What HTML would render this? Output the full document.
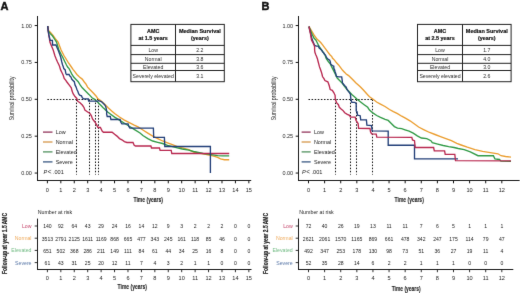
<!DOCTYPE html><html><head><meta charset="utf-8"><style>html,body{margin:0;padding:0;background:#fff;}svg{display:block;font-family:"Liberation Sans", sans-serif;}</style></head><body>
<svg width="520" height="293" viewBox="0 0 520 293">
<defs><filter id="bl" x="0" y="0" width="520" height="293" filterUnits="userSpaceOnUse" color-interpolation-filters="sRGB"><feConvolveMatrix order="3" kernelMatrix="0.00717 0.08466 0.00717 0.08466 1.00000 0.08466 0.00717 0.08466 0.00717" edgeMode="duplicate" preserveAlpha="false"/></filter></defs>
<rect width="520" height="293" fill="#fff"/>
<g filter="url(#bl)">
<text x="0.5" y="10" font-size="11" text-anchor="start" fill="#111" font-weight="bold" stroke="#111" stroke-width="0.45">A</text>
<line x1="37.5" y1="16" x2="37.5" y2="181" stroke="#1a1a1a" stroke-width="1.05" />
<line x1="34.7" y1="173.05" x2="37.5" y2="173.05" stroke="#111" stroke-width="1.0" />
<text x="31.9" y="175.05" font-size="5.5" text-anchor="end" fill="#1e1e1e" font-weight="normal" >0.00</text>
<line x1="34.7" y1="136.18" x2="37.5" y2="136.18" stroke="#111" stroke-width="1.0" />
<text x="31.9" y="138.18" font-size="5.5" text-anchor="end" fill="#1e1e1e" font-weight="normal" >0.25</text>
<line x1="34.7" y1="99.3" x2="37.5" y2="99.3" stroke="#111" stroke-width="1.0" />
<text x="31.9" y="101.3" font-size="5.5" text-anchor="end" fill="#1e1e1e" font-weight="normal" >0.50</text>
<line x1="34.7" y1="62.43" x2="37.5" y2="62.43" stroke="#111" stroke-width="1.0" />
<text x="31.9" y="64.43" font-size="5.5" text-anchor="end" fill="#1e1e1e" font-weight="normal" >0.75</text>
<line x1="34.7" y1="25.55" x2="37.5" y2="25.55" stroke="#111" stroke-width="1.0" />
<text x="31.9" y="27.55" font-size="5.5" text-anchor="end" fill="#1e1e1e" font-weight="normal" >1.00</text>
<text transform="translate(14.3,98.3) rotate(-90)" font-size="6.4" text-anchor="middle" fill="#1e1e1e" textLength="44" lengthAdjust="spacingAndGlyphs">Survival probability</text>
<line x1="37" y1="180.5" x2="251.2" y2="180.5" stroke="#1a1a1a" stroke-width="1.05" />
<line x1="47.4" y1="180.5" x2="47.4" y2="183.3" stroke="#111" stroke-width="1.0" />
<text x="47.4" y="191.5" font-size="5.6" text-anchor="middle" fill="#222" font-weight="normal" >0</text>
<line x1="60.83" y1="180.5" x2="60.83" y2="183.3" stroke="#111" stroke-width="1.0" />
<text x="60.83" y="191.5" font-size="5.6" text-anchor="middle" fill="#222" font-weight="normal" >1</text>
<line x1="74.26" y1="180.5" x2="74.26" y2="183.3" stroke="#111" stroke-width="1.0" />
<text x="74.26" y="191.5" font-size="5.6" text-anchor="middle" fill="#222" font-weight="normal" >2</text>
<line x1="87.69" y1="180.5" x2="87.69" y2="183.3" stroke="#111" stroke-width="1.0" />
<text x="87.69" y="191.5" font-size="5.6" text-anchor="middle" fill="#222" font-weight="normal" >3</text>
<line x1="101.12" y1="180.5" x2="101.12" y2="183.3" stroke="#111" stroke-width="1.0" />
<text x="101.12" y="191.5" font-size="5.6" text-anchor="middle" fill="#222" font-weight="normal" >4</text>
<line x1="114.55" y1="180.5" x2="114.55" y2="183.3" stroke="#111" stroke-width="1.0" />
<text x="114.55" y="191.5" font-size="5.6" text-anchor="middle" fill="#222" font-weight="normal" >5</text>
<line x1="127.98" y1="180.5" x2="127.98" y2="183.3" stroke="#111" stroke-width="1.0" />
<text x="127.98" y="191.5" font-size="5.6" text-anchor="middle" fill="#222" font-weight="normal" >6</text>
<line x1="141.41" y1="180.5" x2="141.41" y2="183.3" stroke="#111" stroke-width="1.0" />
<text x="141.41" y="191.5" font-size="5.6" text-anchor="middle" fill="#222" font-weight="normal" >7</text>
<line x1="154.84" y1="180.5" x2="154.84" y2="183.3" stroke="#111" stroke-width="1.0" />
<text x="154.84" y="191.5" font-size="5.6" text-anchor="middle" fill="#222" font-weight="normal" >8</text>
<line x1="168.27" y1="180.5" x2="168.27" y2="183.3" stroke="#111" stroke-width="1.0" />
<text x="168.27" y="191.5" font-size="5.6" text-anchor="middle" fill="#222" font-weight="normal" >9</text>
<line x1="181.7" y1="180.5" x2="181.7" y2="183.3" stroke="#111" stroke-width="1.0" />
<text x="181.7" y="191.5" font-size="5.6" text-anchor="middle" fill="#222" font-weight="normal" >10</text>
<line x1="195.13" y1="180.5" x2="195.13" y2="183.3" stroke="#111" stroke-width="1.0" />
<text x="195.13" y="191.5" font-size="5.6" text-anchor="middle" fill="#222" font-weight="normal" >11</text>
<line x1="208.56" y1="180.5" x2="208.56" y2="183.3" stroke="#111" stroke-width="1.0" />
<text x="208.56" y="191.5" font-size="5.6" text-anchor="middle" fill="#222" font-weight="normal" >12</text>
<line x1="221.99" y1="180.5" x2="221.99" y2="183.3" stroke="#111" stroke-width="1.0" />
<text x="221.99" y="191.5" font-size="5.6" text-anchor="middle" fill="#222" font-weight="normal" >13</text>
<line x1="235.42" y1="180.5" x2="235.42" y2="183.3" stroke="#111" stroke-width="1.0" />
<text x="235.42" y="191.5" font-size="5.6" text-anchor="middle" fill="#222" font-weight="normal" >14</text>
<line x1="248.85" y1="180.5" x2="248.85" y2="183.3" stroke="#111" stroke-width="1.0" />
<text x="248.85" y="191.5" font-size="5.6" text-anchor="middle" fill="#222" font-weight="normal" >15</text>
<text x="133.5" y="201.8" font-size="8.0" font-weight="bold" fill="#222" stroke="#222" stroke-width="0.12" textLength="29.5" lengthAdjust="spacingAndGlyphs">Time (years)</text>
<rect x="130.9" y="24.4" width="93.4" height="57.3" fill="#fff" stroke="#222" stroke-width="1.0"/>
<line x1="130.9" y1="45.4" x2="224.3" y2="45.4" stroke="#222" stroke-width="1.0" />
<line x1="130.9" y1="54.6" x2="224.3" y2="54.6" stroke="#222" stroke-width="1.0" />
<line x1="130.9" y1="63.3" x2="224.3" y2="63.3" stroke="#222" stroke-width="1.0" />
<line x1="130.9" y1="70.5" x2="224.3" y2="70.5" stroke="#222" stroke-width="1.0" />
<line x1="175.5" y1="24.4" x2="175.5" y2="81.7" stroke="#222" stroke-width="1.0" />
<text x="153.2" y="33.1" font-size="5.4" text-anchor="middle" fill="#111" font-weight="bold" stroke="#111" stroke-width="0.18">AMC</text>
<text x="153.2" y="39.9" font-size="5.4" text-anchor="middle" fill="#111" font-weight="bold" stroke="#111" stroke-width="0.18">at 1.5 years</text>
<text x="199.9" y="33.1" font-size="5.5" text-anchor="middle" fill="#111" font-weight="bold" stroke="#111" stroke-width="0.18">Median Survival</text>
<text x="199.9" y="39.9" font-size="5.4" text-anchor="middle" fill="#111" font-weight="bold" stroke="#111" stroke-width="0.18">(years)</text>
<text x="153.2" y="51.8" font-size="5.2" text-anchor="middle" fill="#2a2a2a" font-weight="normal" >Low</text>
<text x="199.9" y="51.8" font-size="5.2" text-anchor="middle" fill="#2a2a2a" font-weight="normal" >2.2</text>
<text x="153.2" y="60.75" font-size="5.2" text-anchor="middle" fill="#2a2a2a" font-weight="normal" >Normal</text>
<text x="199.9" y="60.75" font-size="5.2" text-anchor="middle" fill="#2a2a2a" font-weight="normal" >3.8</text>
<text x="153.2" y="68.7" font-size="5.2" text-anchor="middle" fill="#2a2a2a" font-weight="normal" >Elevated</text>
<text x="199.9" y="68.7" font-size="5.2" text-anchor="middle" fill="#2a2a2a" font-weight="normal" >3.6</text>
<text x="153.2" y="77.9" font-size="5.2" text-anchor="middle" fill="#2a2a2a" font-weight="normal" >Severely elevated</text>
<text x="199.9" y="77.9" font-size="5.2" text-anchor="middle" fill="#2a2a2a" font-weight="normal" >3.1</text>
<line x1="43" y1="132.1" x2="52.5" y2="132.1" stroke="#8e2d55" stroke-width="1.25" />
<text x="55.7" y="133.9" font-size="5.4" text-anchor="start" fill="#222" font-weight="normal" >Low</text>
<line x1="43" y1="142" x2="52.5" y2="142" stroke="#d39342" stroke-width="1.25" />
<text x="55.7" y="143.8" font-size="5.4" text-anchor="start" fill="#222" font-weight="normal" >Normal</text>
<line x1="43" y1="151.9" x2="52.5" y2="151.9" stroke="#4a8c58" stroke-width="1.25" />
<text x="55.7" y="153.7" font-size="5.4" text-anchor="start" fill="#222" font-weight="normal" >Elevated</text>
<line x1="43" y1="161.9" x2="52.5" y2="161.9" stroke="#31527d" stroke-width="1.25" />
<text x="55.7" y="163.7" font-size="5.4" text-anchor="start" fill="#222" font-weight="normal" >Severe</text>
<text x="43.4" y="173.6" font-size="5.6" fill="#222"><tspan font-style="italic">P</tspan><tspan dx="0.6" font-size="6.4">&lt;</tspan><tspan dx="1.4">.001</tspan></text>
<line x1="47.4" y1="99.5" x2="98.5" y2="99.5" stroke="#111" stroke-width="1.0" stroke-dasharray="1.5,1.6"/>
<line x1="76.5" y1="99.5" x2="76.5" y2="174.6" stroke="#111" stroke-width="1.0" stroke-dasharray="1.5,1.6"/>
<line x1="89.5" y1="99.5" x2="89.5" y2="174.6" stroke="#111" stroke-width="1.0" stroke-dasharray="1.5,1.6"/>
<line x1="95.5" y1="99.5" x2="95.5" y2="174.6" stroke="#111" stroke-width="1.0" stroke-dasharray="1.5,1.6"/>
<line x1="98.5" y1="99.5" x2="98.5" y2="174.6" stroke="#111" stroke-width="1.0" stroke-dasharray="1.5,1.6"/>
<text x="37.7" y="213.8" font-size="5.3" fill="#1e1e1e">Number at risk</text>
<line x1="37.5" y1="218.6" x2="37.5" y2="270" stroke="#1a1a1a" stroke-width="1.05" />
<line x1="37" y1="269.5" x2="251.5" y2="269.5" stroke="#1a1a1a" stroke-width="1.05" />
<line x1="34.7" y1="226" x2="37.5" y2="226" stroke="#1a1a1a" stroke-width="0.9" />
<text x="31.5" y="228" font-size="5.2" text-anchor="end" fill="#c4456b" font-weight="normal" >Low</text>
<text x="47.4" y="228.4" font-size="5.1" text-anchor="middle" fill="#1a1a1a" font-weight="normal" >140</text>
<text x="60.83" y="228.4" font-size="5.1" text-anchor="middle" fill="#1a1a1a" font-weight="normal" >92</text>
<text x="74.26" y="228.4" font-size="5.1" text-anchor="middle" fill="#1a1a1a" font-weight="normal" >64</text>
<text x="87.69" y="228.4" font-size="5.1" text-anchor="middle" fill="#1a1a1a" font-weight="normal" >43</text>
<text x="101.12" y="228.4" font-size="5.1" text-anchor="middle" fill="#1a1a1a" font-weight="normal" >29</text>
<text x="114.55" y="228.4" font-size="5.1" text-anchor="middle" fill="#1a1a1a" font-weight="normal" >24</text>
<text x="127.98" y="228.4" font-size="5.1" text-anchor="middle" fill="#1a1a1a" font-weight="normal" >16</text>
<text x="141.41" y="228.4" font-size="5.1" text-anchor="middle" fill="#1a1a1a" font-weight="normal" >14</text>
<text x="154.84" y="228.4" font-size="5.1" text-anchor="middle" fill="#1a1a1a" font-weight="normal" >12</text>
<text x="168.27" y="228.4" font-size="5.1" text-anchor="middle" fill="#1a1a1a" font-weight="normal" >9</text>
<text x="181.7" y="228.4" font-size="5.1" text-anchor="middle" fill="#1a1a1a" font-weight="normal" >3</text>
<text x="195.13" y="228.4" font-size="5.1" text-anchor="middle" fill="#1a1a1a" font-weight="normal" >2</text>
<text x="208.56" y="228.4" font-size="5.1" text-anchor="middle" fill="#1a1a1a" font-weight="normal" >2</text>
<text x="221.99" y="228.4" font-size="5.1" text-anchor="middle" fill="#1a1a1a" font-weight="normal" >2</text>
<text x="235.42" y="228.4" font-size="5.1" text-anchor="middle" fill="#1a1a1a" font-weight="normal" >0</text>
<text x="248.85" y="228.4" font-size="5.1" text-anchor="middle" fill="#1a1a1a" font-weight="normal" >0</text>
<line x1="34.7" y1="238.2" x2="37.5" y2="238.2" stroke="#1a1a1a" stroke-width="0.9" />
<text x="31.5" y="240.2" font-size="5.2" text-anchor="end" fill="#eeaa5c" font-weight="normal" >Normal</text>
<text x="47.4" y="240.6" font-size="5.1" text-anchor="middle" fill="#1a1a1a" font-weight="normal" >3513</text>
<text x="60.83" y="240.6" font-size="5.1" text-anchor="middle" fill="#1a1a1a" font-weight="normal" >2791</text>
<text x="74.26" y="240.6" font-size="5.1" text-anchor="middle" fill="#1a1a1a" font-weight="normal" >2125</text>
<text x="87.69" y="240.6" font-size="5.1" text-anchor="middle" fill="#1a1a1a" font-weight="normal" >1611</text>
<text x="101.12" y="240.6" font-size="5.1" text-anchor="middle" fill="#1a1a1a" font-weight="normal" >1169</text>
<text x="114.55" y="240.6" font-size="5.1" text-anchor="middle" fill="#1a1a1a" font-weight="normal" >868</text>
<text x="127.98" y="240.6" font-size="5.1" text-anchor="middle" fill="#1a1a1a" font-weight="normal" >665</text>
<text x="141.41" y="240.6" font-size="5.1" text-anchor="middle" fill="#1a1a1a" font-weight="normal" >477</text>
<text x="154.84" y="240.6" font-size="5.1" text-anchor="middle" fill="#1a1a1a" font-weight="normal" >343</text>
<text x="168.27" y="240.6" font-size="5.1" text-anchor="middle" fill="#1a1a1a" font-weight="normal" >245</text>
<text x="181.7" y="240.6" font-size="5.1" text-anchor="middle" fill="#1a1a1a" font-weight="normal" >161</text>
<text x="195.13" y="240.6" font-size="5.1" text-anchor="middle" fill="#1a1a1a" font-weight="normal" >118</text>
<text x="208.56" y="240.6" font-size="5.1" text-anchor="middle" fill="#1a1a1a" font-weight="normal" >85</text>
<text x="221.99" y="240.6" font-size="5.1" text-anchor="middle" fill="#1a1a1a" font-weight="normal" >46</text>
<text x="235.42" y="240.6" font-size="5.1" text-anchor="middle" fill="#1a1a1a" font-weight="normal" >0</text>
<text x="248.85" y="240.6" font-size="5.1" text-anchor="middle" fill="#1a1a1a" font-weight="normal" >0</text>
<line x1="34.7" y1="250.4" x2="37.5" y2="250.4" stroke="#1a1a1a" stroke-width="0.9" />
<text x="31.5" y="252.4" font-size="5.2" text-anchor="end" fill="#72bb84" font-weight="normal" >Elevated</text>
<text x="47.4" y="252.8" font-size="5.1" text-anchor="middle" fill="#1a1a1a" font-weight="normal" >651</text>
<text x="60.83" y="252.8" font-size="5.1" text-anchor="middle" fill="#1a1a1a" font-weight="normal" >502</text>
<text x="74.26" y="252.8" font-size="5.1" text-anchor="middle" fill="#1a1a1a" font-weight="normal" >368</text>
<text x="87.69" y="252.8" font-size="5.1" text-anchor="middle" fill="#1a1a1a" font-weight="normal" >286</text>
<text x="101.12" y="252.8" font-size="5.1" text-anchor="middle" fill="#1a1a1a" font-weight="normal" >211</text>
<text x="114.55" y="252.8" font-size="5.1" text-anchor="middle" fill="#1a1a1a" font-weight="normal" >149</text>
<text x="127.98" y="252.8" font-size="5.1" text-anchor="middle" fill="#1a1a1a" font-weight="normal" >111</text>
<text x="141.41" y="252.8" font-size="5.1" text-anchor="middle" fill="#1a1a1a" font-weight="normal" >84</text>
<text x="154.84" y="252.8" font-size="5.1" text-anchor="middle" fill="#1a1a1a" font-weight="normal" >61</text>
<text x="168.27" y="252.8" font-size="5.1" text-anchor="middle" fill="#1a1a1a" font-weight="normal" >44</text>
<text x="181.7" y="252.8" font-size="5.1" text-anchor="middle" fill="#1a1a1a" font-weight="normal" >34</text>
<text x="195.13" y="252.8" font-size="5.1" text-anchor="middle" fill="#1a1a1a" font-weight="normal" >25</text>
<text x="208.56" y="252.8" font-size="5.1" text-anchor="middle" fill="#1a1a1a" font-weight="normal" >16</text>
<text x="221.99" y="252.8" font-size="5.1" text-anchor="middle" fill="#1a1a1a" font-weight="normal" >8</text>
<text x="235.42" y="252.8" font-size="5.1" text-anchor="middle" fill="#1a1a1a" font-weight="normal" >0</text>
<text x="248.85" y="252.8" font-size="5.1" text-anchor="middle" fill="#1a1a1a" font-weight="normal" >0</text>
<line x1="34.7" y1="262.6" x2="37.5" y2="262.6" stroke="#1a1a1a" stroke-width="0.9" />
<text x="31.5" y="264.6" font-size="5.2" text-anchor="end" fill="#5a78a8" font-weight="normal" >Severe</text>
<text x="47.4" y="265" font-size="5.1" text-anchor="middle" fill="#1a1a1a" font-weight="normal" >61</text>
<text x="60.83" y="265" font-size="5.1" text-anchor="middle" fill="#1a1a1a" font-weight="normal" >43</text>
<text x="74.26" y="265" font-size="5.1" text-anchor="middle" fill="#1a1a1a" font-weight="normal" >31</text>
<text x="87.69" y="265" font-size="5.1" text-anchor="middle" fill="#1a1a1a" font-weight="normal" >25</text>
<text x="101.12" y="265" font-size="5.1" text-anchor="middle" fill="#1a1a1a" font-weight="normal" >20</text>
<text x="114.55" y="265" font-size="5.1" text-anchor="middle" fill="#1a1a1a" font-weight="normal" >12</text>
<text x="127.98" y="265" font-size="5.1" text-anchor="middle" fill="#1a1a1a" font-weight="normal" >11</text>
<text x="141.41" y="265" font-size="5.1" text-anchor="middle" fill="#1a1a1a" font-weight="normal" >7</text>
<text x="154.84" y="265" font-size="5.1" text-anchor="middle" fill="#1a1a1a" font-weight="normal" >4</text>
<text x="168.27" y="265" font-size="5.1" text-anchor="middle" fill="#1a1a1a" font-weight="normal" >3</text>
<text x="181.7" y="265" font-size="5.1" text-anchor="middle" fill="#1a1a1a" font-weight="normal" >2</text>
<text x="195.13" y="265" font-size="5.1" text-anchor="middle" fill="#1a1a1a" font-weight="normal" >1</text>
<text x="208.56" y="265" font-size="5.1" text-anchor="middle" fill="#1a1a1a" font-weight="normal" >1</text>
<text x="221.99" y="265" font-size="5.1" text-anchor="middle" fill="#1a1a1a" font-weight="normal" >0</text>
<text x="235.42" y="265" font-size="5.1" text-anchor="middle" fill="#1a1a1a" font-weight="normal" >0</text>
<text x="248.85" y="265" font-size="5.1" text-anchor="middle" fill="#1a1a1a" font-weight="normal" >0</text>
<line x1="47.4" y1="269.5" x2="47.4" y2="272.2" stroke="#1a1a1a" stroke-width="0.9" />
<text x="47.4" y="279.9" font-size="5.6" text-anchor="middle" fill="#222" font-weight="normal" >0</text>
<line x1="60.83" y1="269.5" x2="60.83" y2="272.2" stroke="#1a1a1a" stroke-width="0.9" />
<text x="60.83" y="279.9" font-size="5.6" text-anchor="middle" fill="#222" font-weight="normal" >1</text>
<line x1="74.26" y1="269.5" x2="74.26" y2="272.2" stroke="#1a1a1a" stroke-width="0.9" />
<text x="74.26" y="279.9" font-size="5.6" text-anchor="middle" fill="#222" font-weight="normal" >2</text>
<line x1="87.69" y1="269.5" x2="87.69" y2="272.2" stroke="#1a1a1a" stroke-width="0.9" />
<text x="87.69" y="279.9" font-size="5.6" text-anchor="middle" fill="#222" font-weight="normal" >3</text>
<line x1="101.12" y1="269.5" x2="101.12" y2="272.2" stroke="#1a1a1a" stroke-width="0.9" />
<text x="101.12" y="279.9" font-size="5.6" text-anchor="middle" fill="#222" font-weight="normal" >4</text>
<line x1="114.55" y1="269.5" x2="114.55" y2="272.2" stroke="#1a1a1a" stroke-width="0.9" />
<text x="114.55" y="279.9" font-size="5.6" text-anchor="middle" fill="#222" font-weight="normal" >5</text>
<line x1="127.98" y1="269.5" x2="127.98" y2="272.2" stroke="#1a1a1a" stroke-width="0.9" />
<text x="127.98" y="279.9" font-size="5.6" text-anchor="middle" fill="#222" font-weight="normal" >6</text>
<line x1="141.41" y1="269.5" x2="141.41" y2="272.2" stroke="#1a1a1a" stroke-width="0.9" />
<text x="141.41" y="279.9" font-size="5.6" text-anchor="middle" fill="#222" font-weight="normal" >7</text>
<line x1="154.84" y1="269.5" x2="154.84" y2="272.2" stroke="#1a1a1a" stroke-width="0.9" />
<text x="154.84" y="279.9" font-size="5.6" text-anchor="middle" fill="#222" font-weight="normal" >8</text>
<line x1="168.27" y1="269.5" x2="168.27" y2="272.2" stroke="#1a1a1a" stroke-width="0.9" />
<text x="168.27" y="279.9" font-size="5.6" text-anchor="middle" fill="#222" font-weight="normal" >9</text>
<line x1="181.7" y1="269.5" x2="181.7" y2="272.2" stroke="#1a1a1a" stroke-width="0.9" />
<text x="181.7" y="279.9" font-size="5.6" text-anchor="middle" fill="#222" font-weight="normal" >10</text>
<line x1="195.13" y1="269.5" x2="195.13" y2="272.2" stroke="#1a1a1a" stroke-width="0.9" />
<text x="195.13" y="279.9" font-size="5.6" text-anchor="middle" fill="#222" font-weight="normal" >11</text>
<line x1="208.56" y1="269.5" x2="208.56" y2="272.2" stroke="#1a1a1a" stroke-width="0.9" />
<text x="208.56" y="279.9" font-size="5.6" text-anchor="middle" fill="#222" font-weight="normal" >12</text>
<line x1="221.99" y1="269.5" x2="221.99" y2="272.2" stroke="#1a1a1a" stroke-width="0.9" />
<text x="221.99" y="279.9" font-size="5.6" text-anchor="middle" fill="#222" font-weight="normal" >13</text>
<line x1="235.42" y1="269.5" x2="235.42" y2="272.2" stroke="#1a1a1a" stroke-width="0.9" />
<text x="235.42" y="279.9" font-size="5.6" text-anchor="middle" fill="#222" font-weight="normal" >14</text>
<line x1="248.85" y1="269.5" x2="248.85" y2="272.2" stroke="#1a1a1a" stroke-width="0.9" />
<text x="248.85" y="279.9" font-size="5.6" text-anchor="middle" fill="#222" font-weight="normal" >15</text>
<text x="117.6" y="288.6" font-size="8.0" font-weight="bold" fill="#222" stroke="#222" stroke-width="0.12" textLength="29.3" lengthAdjust="spacingAndGlyphs">Time (years)</text>
<text transform="translate(6.7,243.5) rotate(-90)" font-size="7.2" font-weight="bold" text-anchor="middle" fill="#222" stroke="#222" stroke-width="0.2" textLength="61" lengthAdjust="spacingAndGlyphs">Follow-up at year 1.5 AMC</text>
<text x="261.6" y="10" font-size="11" text-anchor="start" fill="#111" font-weight="bold" stroke="#111" stroke-width="0.45">B</text>
<line x1="298.5" y1="16" x2="298.5" y2="181" stroke="#1a1a1a" stroke-width="1.05" />
<line x1="295.7" y1="173.05" x2="298.5" y2="173.05" stroke="#111" stroke-width="1.0" />
<text x="293.1" y="175.05" font-size="5.5" text-anchor="end" fill="#1e1e1e" font-weight="normal" >0.00</text>
<line x1="295.7" y1="136.18" x2="298.5" y2="136.18" stroke="#111" stroke-width="1.0" />
<text x="293.1" y="138.18" font-size="5.5" text-anchor="end" fill="#1e1e1e" font-weight="normal" >0.25</text>
<line x1="295.7" y1="99.3" x2="298.5" y2="99.3" stroke="#111" stroke-width="1.0" />
<text x="293.1" y="101.3" font-size="5.5" text-anchor="end" fill="#1e1e1e" font-weight="normal" >0.50</text>
<line x1="295.7" y1="62.43" x2="298.5" y2="62.43" stroke="#111" stroke-width="1.0" />
<text x="293.1" y="64.43" font-size="5.5" text-anchor="end" fill="#1e1e1e" font-weight="normal" >0.75</text>
<line x1="295.7" y1="25.55" x2="298.5" y2="25.55" stroke="#111" stroke-width="1.0" />
<text x="293.1" y="27.55" font-size="5.5" text-anchor="end" fill="#1e1e1e" font-weight="normal" >1.00</text>
<text transform="translate(275.9,98.3) rotate(-90)" font-size="6.4" text-anchor="middle" fill="#1e1e1e" textLength="44" lengthAdjust="spacingAndGlyphs">Survival probability</text>
<line x1="298" y1="180.5" x2="519.6" y2="180.5" stroke="#1a1a1a" stroke-width="1.05" />
<line x1="308.5" y1="180.5" x2="308.5" y2="183.3" stroke="#111" stroke-width="1.0" />
<text x="308.5" y="191.5" font-size="5.6" text-anchor="middle" fill="#222" font-weight="normal" >0</text>
<line x1="324.61" y1="180.5" x2="324.61" y2="183.3" stroke="#111" stroke-width="1.0" />
<text x="324.61" y="191.5" font-size="5.6" text-anchor="middle" fill="#222" font-weight="normal" >1</text>
<line x1="340.72" y1="180.5" x2="340.72" y2="183.3" stroke="#111" stroke-width="1.0" />
<text x="340.72" y="191.5" font-size="5.6" text-anchor="middle" fill="#222" font-weight="normal" >2</text>
<line x1="356.83" y1="180.5" x2="356.83" y2="183.3" stroke="#111" stroke-width="1.0" />
<text x="356.83" y="191.5" font-size="5.6" text-anchor="middle" fill="#222" font-weight="normal" >3</text>
<line x1="372.94" y1="180.5" x2="372.94" y2="183.3" stroke="#111" stroke-width="1.0" />
<text x="372.94" y="191.5" font-size="5.6" text-anchor="middle" fill="#222" font-weight="normal" >4</text>
<line x1="389.05" y1="180.5" x2="389.05" y2="183.3" stroke="#111" stroke-width="1.0" />
<text x="389.05" y="191.5" font-size="5.6" text-anchor="middle" fill="#222" font-weight="normal" >5</text>
<line x1="405.16" y1="180.5" x2="405.16" y2="183.3" stroke="#111" stroke-width="1.0" />
<text x="405.16" y="191.5" font-size="5.6" text-anchor="middle" fill="#222" font-weight="normal" >6</text>
<line x1="421.27" y1="180.5" x2="421.27" y2="183.3" stroke="#111" stroke-width="1.0" />
<text x="421.27" y="191.5" font-size="5.6" text-anchor="middle" fill="#222" font-weight="normal" >7</text>
<line x1="437.38" y1="180.5" x2="437.38" y2="183.3" stroke="#111" stroke-width="1.0" />
<text x="437.38" y="191.5" font-size="5.6" text-anchor="middle" fill="#222" font-weight="normal" >8</text>
<line x1="453.49" y1="180.5" x2="453.49" y2="183.3" stroke="#111" stroke-width="1.0" />
<text x="453.49" y="191.5" font-size="5.6" text-anchor="middle" fill="#222" font-weight="normal" >9</text>
<line x1="469.6" y1="180.5" x2="469.6" y2="183.3" stroke="#111" stroke-width="1.0" />
<text x="469.6" y="191.5" font-size="5.6" text-anchor="middle" fill="#222" font-weight="normal" >10</text>
<line x1="485.71" y1="180.5" x2="485.71" y2="183.3" stroke="#111" stroke-width="1.0" />
<text x="485.71" y="191.5" font-size="5.6" text-anchor="middle" fill="#222" font-weight="normal" >11</text>
<line x1="501.82" y1="180.5" x2="501.82" y2="183.3" stroke="#111" stroke-width="1.0" />
<text x="501.82" y="191.5" font-size="5.6" text-anchor="middle" fill="#222" font-weight="normal" >12</text>
<text x="394.6" y="201.8" font-size="8.0" font-weight="bold" fill="#222" stroke="#222" stroke-width="0.12" textLength="29.2" lengthAdjust="spacingAndGlyphs">Time (years)</text>
<rect x="417.5" y="24.4" width="93.6" height="57.3" fill="#fff" stroke="#222" stroke-width="1.0"/>
<line x1="417.5" y1="45.4" x2="511.1" y2="45.4" stroke="#222" stroke-width="1.0" />
<line x1="417.5" y1="54.6" x2="511.1" y2="54.6" stroke="#222" stroke-width="1.0" />
<line x1="417.5" y1="63.3" x2="511.1" y2="63.3" stroke="#222" stroke-width="1.0" />
<line x1="417.5" y1="70.5" x2="511.1" y2="70.5" stroke="#222" stroke-width="1.0" />
<line x1="462.5" y1="24.4" x2="462.5" y2="81.7" stroke="#222" stroke-width="1.0" />
<text x="440" y="33.1" font-size="5.4" text-anchor="middle" fill="#111" font-weight="bold" stroke="#111" stroke-width="0.18">AMC</text>
<text x="440" y="39.9" font-size="5.4" text-anchor="middle" fill="#111" font-weight="bold" stroke="#111" stroke-width="0.18">at 2.5 years</text>
<text x="486.8" y="33.1" font-size="5.5" text-anchor="middle" fill="#111" font-weight="bold" stroke="#111" stroke-width="0.18">Median Survival</text>
<text x="486.8" y="39.9" font-size="5.4" text-anchor="middle" fill="#111" font-weight="bold" stroke="#111" stroke-width="0.18">(years)</text>
<text x="440" y="51.8" font-size="5.2" text-anchor="middle" fill="#2a2a2a" font-weight="normal" >Low</text>
<text x="486.8" y="51.8" font-size="5.2" text-anchor="middle" fill="#2a2a2a" font-weight="normal" >1.7</text>
<text x="440" y="60.75" font-size="5.2" text-anchor="middle" fill="#2a2a2a" font-weight="normal" >Normal</text>
<text x="486.8" y="60.75" font-size="5.2" text-anchor="middle" fill="#2a2a2a" font-weight="normal" >4.0</text>
<text x="440" y="68.7" font-size="5.2" text-anchor="middle" fill="#2a2a2a" font-weight="normal" >Elevated</text>
<text x="486.8" y="68.7" font-size="5.2" text-anchor="middle" fill="#2a2a2a" font-weight="normal" >3.0</text>
<text x="440" y="77.9" font-size="5.2" text-anchor="middle" fill="#2a2a2a" font-weight="normal" >Severely elevated</text>
<text x="486.8" y="77.9" font-size="5.2" text-anchor="middle" fill="#2a2a2a" font-weight="normal" >2.6</text>
<line x1="301.6" y1="132.1" x2="310.7" y2="132.1" stroke="#8e2d55" stroke-width="1.25" />
<text x="313.9" y="133.9" font-size="5.4" text-anchor="start" fill="#222" font-weight="normal" >Low</text>
<line x1="301.6" y1="142" x2="310.7" y2="142" stroke="#d39342" stroke-width="1.25" />
<text x="313.9" y="143.8" font-size="5.4" text-anchor="start" fill="#222" font-weight="normal" >Normal</text>
<line x1="301.6" y1="151.9" x2="310.7" y2="151.9" stroke="#4a8c58" stroke-width="1.25" />
<text x="313.9" y="153.7" font-size="5.4" text-anchor="start" fill="#222" font-weight="normal" >Elevated</text>
<line x1="301.6" y1="161.9" x2="310.7" y2="161.9" stroke="#31527d" stroke-width="1.25" />
<text x="313.9" y="163.7" font-size="5.4" text-anchor="start" fill="#222" font-weight="normal" >Severe</text>
<text x="302" y="173.6" font-size="5.6" fill="#222"><tspan font-style="italic">P</tspan><tspan dx="0.6" font-size="6.4">&lt;</tspan><tspan dx="1.4">.001</tspan></text>
<line x1="308.5" y1="99.5" x2="372.5" y2="99.5" stroke="#111" stroke-width="1.0" stroke-dasharray="1.5,1.6"/>
<line x1="335.5" y1="99.5" x2="335.5" y2="174.6" stroke="#111" stroke-width="1.0" stroke-dasharray="1.5,1.6"/>
<line x1="350.5" y1="99.5" x2="350.5" y2="174.6" stroke="#111" stroke-width="1.0" stroke-dasharray="1.5,1.6"/>
<line x1="356.5" y1="99.5" x2="356.5" y2="174.6" stroke="#111" stroke-width="1.0" stroke-dasharray="1.5,1.6"/>
<line x1="372.5" y1="99.5" x2="372.5" y2="174.6" stroke="#111" stroke-width="1.0" stroke-dasharray="1.5,1.6"/>
<text x="299.3" y="213.8" font-size="5.3" fill="#1e1e1e">Number at risk</text>
<line x1="298.5" y1="218.6" x2="298.5" y2="270" stroke="#1a1a1a" stroke-width="1.05" />
<line x1="298" y1="269.5" x2="513.3" y2="269.5" stroke="#1a1a1a" stroke-width="1.05" />
<line x1="295.7" y1="226" x2="298.5" y2="226" stroke="#1a1a1a" stroke-width="0.9" />
<text x="292.7" y="228" font-size="5.2" text-anchor="end" fill="#c4456b" font-weight="normal" >Low</text>
<text x="308.5" y="228.4" font-size="5.1" text-anchor="middle" fill="#1a1a1a" font-weight="normal" >72</text>
<text x="324.61" y="228.4" font-size="5.1" text-anchor="middle" fill="#1a1a1a" font-weight="normal" >40</text>
<text x="340.72" y="228.4" font-size="5.1" text-anchor="middle" fill="#1a1a1a" font-weight="normal" >26</text>
<text x="356.83" y="228.4" font-size="5.1" text-anchor="middle" fill="#1a1a1a" font-weight="normal" >19</text>
<text x="372.94" y="228.4" font-size="5.1" text-anchor="middle" fill="#1a1a1a" font-weight="normal" >13</text>
<text x="389.05" y="228.4" font-size="5.1" text-anchor="middle" fill="#1a1a1a" font-weight="normal" >11</text>
<text x="405.16" y="228.4" font-size="5.1" text-anchor="middle" fill="#1a1a1a" font-weight="normal" >11</text>
<text x="421.27" y="228.4" font-size="5.1" text-anchor="middle" fill="#1a1a1a" font-weight="normal" >7</text>
<text x="437.38" y="228.4" font-size="5.1" text-anchor="middle" fill="#1a1a1a" font-weight="normal" >6</text>
<text x="453.49" y="228.4" font-size="5.1" text-anchor="middle" fill="#1a1a1a" font-weight="normal" >5</text>
<text x="469.6" y="228.4" font-size="5.1" text-anchor="middle" fill="#1a1a1a" font-weight="normal" >1</text>
<text x="485.71" y="228.4" font-size="5.1" text-anchor="middle" fill="#1a1a1a" font-weight="normal" >1</text>
<text x="501.82" y="228.4" font-size="5.1" text-anchor="middle" fill="#1a1a1a" font-weight="normal" >1</text>
<line x1="295.7" y1="238.2" x2="298.5" y2="238.2" stroke="#1a1a1a" stroke-width="0.9" />
<text x="292.7" y="240.2" font-size="5.2" text-anchor="end" fill="#eeaa5c" font-weight="normal" >Normal</text>
<text x="308.5" y="240.6" font-size="5.1" text-anchor="middle" fill="#1a1a1a" font-weight="normal" >2621</text>
<text x="324.61" y="240.6" font-size="5.1" text-anchor="middle" fill="#1a1a1a" font-weight="normal" >2061</text>
<text x="340.72" y="240.6" font-size="5.1" text-anchor="middle" fill="#1a1a1a" font-weight="normal" >1570</text>
<text x="356.83" y="240.6" font-size="5.1" text-anchor="middle" fill="#1a1a1a" font-weight="normal" >1165</text>
<text x="372.94" y="240.6" font-size="5.1" text-anchor="middle" fill="#1a1a1a" font-weight="normal" >869</text>
<text x="389.05" y="240.6" font-size="5.1" text-anchor="middle" fill="#1a1a1a" font-weight="normal" >661</text>
<text x="405.16" y="240.6" font-size="5.1" text-anchor="middle" fill="#1a1a1a" font-weight="normal" >478</text>
<text x="421.27" y="240.6" font-size="5.1" text-anchor="middle" fill="#1a1a1a" font-weight="normal" >342</text>
<text x="437.38" y="240.6" font-size="5.1" text-anchor="middle" fill="#1a1a1a" font-weight="normal" >247</text>
<text x="453.49" y="240.6" font-size="5.1" text-anchor="middle" fill="#1a1a1a" font-weight="normal" >175</text>
<text x="469.6" y="240.6" font-size="5.1" text-anchor="middle" fill="#1a1a1a" font-weight="normal" >114</text>
<text x="485.71" y="240.6" font-size="5.1" text-anchor="middle" fill="#1a1a1a" font-weight="normal" >79</text>
<text x="501.82" y="240.6" font-size="5.1" text-anchor="middle" fill="#1a1a1a" font-weight="normal" >47</text>
<line x1="295.7" y1="250.4" x2="298.5" y2="250.4" stroke="#1a1a1a" stroke-width="0.9" />
<text x="292.7" y="252.4" font-size="5.2" text-anchor="end" fill="#72bb84" font-weight="normal" >Elevated</text>
<text x="308.5" y="252.8" font-size="5.1" text-anchor="middle" fill="#1a1a1a" font-weight="normal" >492</text>
<text x="324.61" y="252.8" font-size="5.1" text-anchor="middle" fill="#1a1a1a" font-weight="normal" >347</text>
<text x="340.72" y="252.8" font-size="5.1" text-anchor="middle" fill="#1a1a1a" font-weight="normal" >253</text>
<text x="356.83" y="252.8" font-size="5.1" text-anchor="middle" fill="#1a1a1a" font-weight="normal" >178</text>
<text x="372.94" y="252.8" font-size="5.1" text-anchor="middle" fill="#1a1a1a" font-weight="normal" >130</text>
<text x="389.05" y="252.8" font-size="5.1" text-anchor="middle" fill="#1a1a1a" font-weight="normal" >98</text>
<text x="405.16" y="252.8" font-size="5.1" text-anchor="middle" fill="#1a1a1a" font-weight="normal" >73</text>
<text x="421.27" y="252.8" font-size="5.1" text-anchor="middle" fill="#1a1a1a" font-weight="normal" >51</text>
<text x="437.38" y="252.8" font-size="5.1" text-anchor="middle" fill="#1a1a1a" font-weight="normal" >36</text>
<text x="453.49" y="252.8" font-size="5.1" text-anchor="middle" fill="#1a1a1a" font-weight="normal" >27</text>
<text x="469.6" y="252.8" font-size="5.1" text-anchor="middle" fill="#1a1a1a" font-weight="normal" >19</text>
<text x="485.71" y="252.8" font-size="5.1" text-anchor="middle" fill="#1a1a1a" font-weight="normal" >11</text>
<text x="501.82" y="252.8" font-size="5.1" text-anchor="middle" fill="#1a1a1a" font-weight="normal" >4</text>
<line x1="295.7" y1="262.6" x2="298.5" y2="262.6" stroke="#1a1a1a" stroke-width="0.9" />
<text x="292.7" y="264.6" font-size="5.2" text-anchor="end" fill="#5a78a8" font-weight="normal" >Severe</text>
<text x="308.5" y="265" font-size="5.1" text-anchor="middle" fill="#1a1a1a" font-weight="normal" >52</text>
<text x="324.61" y="265" font-size="5.1" text-anchor="middle" fill="#1a1a1a" font-weight="normal" >35</text>
<text x="340.72" y="265" font-size="5.1" text-anchor="middle" fill="#1a1a1a" font-weight="normal" >28</text>
<text x="356.83" y="265" font-size="5.1" text-anchor="middle" fill="#1a1a1a" font-weight="normal" >14</text>
<text x="372.94" y="265" font-size="5.1" text-anchor="middle" fill="#1a1a1a" font-weight="normal" >6</text>
<text x="389.05" y="265" font-size="5.1" text-anchor="middle" fill="#1a1a1a" font-weight="normal" >2</text>
<text x="405.16" y="265" font-size="5.1" text-anchor="middle" fill="#1a1a1a" font-weight="normal" >2</text>
<text x="421.27" y="265" font-size="5.1" text-anchor="middle" fill="#1a1a1a" font-weight="normal" >1</text>
<text x="437.38" y="265" font-size="5.1" text-anchor="middle" fill="#1a1a1a" font-weight="normal" >1</text>
<text x="453.49" y="265" font-size="5.1" text-anchor="middle" fill="#1a1a1a" font-weight="normal" >1</text>
<text x="469.6" y="265" font-size="5.1" text-anchor="middle" fill="#1a1a1a" font-weight="normal" >0</text>
<text x="485.71" y="265" font-size="5.1" text-anchor="middle" fill="#1a1a1a" font-weight="normal" >0</text>
<text x="501.82" y="265" font-size="5.1" text-anchor="middle" fill="#1a1a1a" font-weight="normal" >0</text>
<line x1="308.5" y1="269.5" x2="308.5" y2="272.2" stroke="#1a1a1a" stroke-width="0.9" />
<text x="308.5" y="279.9" font-size="5.6" text-anchor="middle" fill="#222" font-weight="normal" >0</text>
<line x1="324.61" y1="269.5" x2="324.61" y2="272.2" stroke="#1a1a1a" stroke-width="0.9" />
<text x="324.61" y="279.9" font-size="5.6" text-anchor="middle" fill="#222" font-weight="normal" >1</text>
<line x1="340.72" y1="269.5" x2="340.72" y2="272.2" stroke="#1a1a1a" stroke-width="0.9" />
<text x="340.72" y="279.9" font-size="5.6" text-anchor="middle" fill="#222" font-weight="normal" >2</text>
<line x1="356.83" y1="269.5" x2="356.83" y2="272.2" stroke="#1a1a1a" stroke-width="0.9" />
<text x="356.83" y="279.9" font-size="5.6" text-anchor="middle" fill="#222" font-weight="normal" >3</text>
<line x1="372.94" y1="269.5" x2="372.94" y2="272.2" stroke="#1a1a1a" stroke-width="0.9" />
<text x="372.94" y="279.9" font-size="5.6" text-anchor="middle" fill="#222" font-weight="normal" >4</text>
<line x1="389.05" y1="269.5" x2="389.05" y2="272.2" stroke="#1a1a1a" stroke-width="0.9" />
<text x="389.05" y="279.9" font-size="5.6" text-anchor="middle" fill="#222" font-weight="normal" >5</text>
<line x1="405.16" y1="269.5" x2="405.16" y2="272.2" stroke="#1a1a1a" stroke-width="0.9" />
<text x="405.16" y="279.9" font-size="5.6" text-anchor="middle" fill="#222" font-weight="normal" >6</text>
<line x1="421.27" y1="269.5" x2="421.27" y2="272.2" stroke="#1a1a1a" stroke-width="0.9" />
<text x="421.27" y="279.9" font-size="5.6" text-anchor="middle" fill="#222" font-weight="normal" >7</text>
<line x1="437.38" y1="269.5" x2="437.38" y2="272.2" stroke="#1a1a1a" stroke-width="0.9" />
<text x="437.38" y="279.9" font-size="5.6" text-anchor="middle" fill="#222" font-weight="normal" >8</text>
<line x1="453.49" y1="269.5" x2="453.49" y2="272.2" stroke="#1a1a1a" stroke-width="0.9" />
<text x="453.49" y="279.9" font-size="5.6" text-anchor="middle" fill="#222" font-weight="normal" >9</text>
<line x1="469.6" y1="269.5" x2="469.6" y2="272.2" stroke="#1a1a1a" stroke-width="0.9" />
<text x="469.6" y="279.9" font-size="5.6" text-anchor="middle" fill="#222" font-weight="normal" >10</text>
<line x1="485.71" y1="269.5" x2="485.71" y2="272.2" stroke="#1a1a1a" stroke-width="0.9" />
<text x="485.71" y="279.9" font-size="5.6" text-anchor="middle" fill="#222" font-weight="normal" >11</text>
<line x1="501.82" y1="269.5" x2="501.82" y2="272.2" stroke="#1a1a1a" stroke-width="0.9" />
<text x="501.82" y="279.9" font-size="5.6" text-anchor="middle" fill="#222" font-weight="normal" >12</text>
<text x="391.7" y="291.2" font-size="8.0" font-weight="bold" fill="#222" stroke="#222" stroke-width="0.12" textLength="28.9" lengthAdjust="spacingAndGlyphs">Time (years)</text>
<text transform="translate(267.8,243.5) rotate(-90)" font-size="7.2" font-weight="bold" text-anchor="middle" fill="#222" stroke="#222" stroke-width="0.2" textLength="61" lengthAdjust="spacingAndGlyphs">Follow-up at year 2.5 AMC</text>
<polyline points="47.7,26 48.5,30.5 50.5,32.5 53,35.5 55.5,39 58.1,42 61.1,50 64.2,56 65.5,58 68.5,63 70.7,66 73,69.3 75,71.9 76.9,74.5 79.5,77.1 82.2,79.1 84.3,82 86,84.2 87.6,87.1 89.6,89.3 91.8,91.5 94,93.7 96.2,96.2 97.5,98.2 98.4,99 100.2,100.4 102.9,102.6 105.7,105.3 108.4,108 112,111.3 114.6,113.5 119.5,117 124.4,120.1 129.3,122.6 134.2,125.1 138,126.9 142.9,130 147.8,133.1 152.7,136.1 157.7,138.6 162.6,141 167.5,142.9 172.4,144.7 177.3,146.6 182.2,147.8 188.8,149.6 193.6,152 198.4,153 203.2,153.9 208,154.9 212.8,155.9 217.7,157.3 220.5,158.8 224.4,159.7 229.2,159.7" fill="none" stroke="#eb9d2e" stroke-width="1.35" stroke-linejoin="miter"/>
<polyline points="47.7,26 48.3,31 50,33.4 52.4,35.8 54.8,39.5 56.5,42 58.9,50 61.5,55 62.6,57 64.5,61 66.5,65 67.6,67 69.1,68.6 70.4,71.2 71.7,73.8 73.7,77.1 76.3,79.7 78.2,81.7 80.1,84.9 82.3,87.8 84.5,90 86.7,92.2 88.9,94.4 91,96.6 92,97.8 94.7,99.3 96.4,100.9 98,102.6 99.7,104.2 101.3,105.8 102.9,107.5 104.6,109.1 106.2,110.8 108,112.3 110.3,114 114.6,117.1 119.5,120.1 124.4,123.2 129.3,126.3 134.2,129.4 140,133 142.9,135.5 147.8,138.6 152.7,141 157.7,142.3 162.6,143.5 167.5,145.3 172.4,146.6 177.3,147.8 182.2,149 188.8,150.1 193.6,151.5 198.4,152.5 203.2,153.5 208,154.2 212.8,154.9 217.7,155.6 222.5,155.9 229.2,155.9" fill="none" stroke="#309a45" stroke-width="1.35" stroke-linejoin="miter"/>
<polyline points="47.7,26 48.2,31 48.7,34.6 49.3,38 49.9,42 51.5,46 53.2,50 55,56 56.2,59 57.5,62 59,65 59.6,66.5 60.6,69.9 61.9,72.5 63.2,75.2 64.2,78.4 65.8,80.4 66.9,82 69.1,84.9 71.3,87.8 72,90.8 73.1,93.7 75,96.6 76.8,98.4 77.6,101.2 80,102.8 82.5,105.3 84.1,107.7 84.9,110.1 87.3,111.7 89.7,113.3 91.3,115.5 92.5,118.9 94.9,122 96.8,125.1 98,127.5 100.4,127.5 102.3,131.2 103.5,132.2 112.1,132.2 114.6,134.3 117,136.1 119.5,138.6 121.9,139.8 124.4,141.6 126.9,142.5 133,142.5 134.2,145.3 135.5,146 150.9,146 151.5,148 159.5,148 160.1,150.3 171.2,150.3 171.8,153.5 229.2,153.5" fill="none" stroke="#b8274f" stroke-width="1.35" stroke-linejoin="miter"/>
<polyline points="47.7,26 48.2,31 48.8,34.6 49.6,38 50.2,40.4 52.4,40.4 52.6,45 55.9,45 57,47.5 58.1,50 60,55 60.8,57.5 61.8,62 62.6,65 63.2,66.5 63.8,68.6 65.2,69.9 65.8,73.2 66.5,74.5 69.1,74.5 69.7,75.8 71,77.1 71.7,79.1 73,80.4 74.3,81.7 75,84.9 76.1,87.1 76.8,89.3 77.9,91.5 78.6,93.7 79.7,95.2 81.5,95.9 82.3,97.7 83.4,98.8 88.3,98.8 88.6,101.1 95.4,101.1 97,101.3 98.6,100.6 101.3,101.5 102.9,103.1 104.6,104.7 105.7,106.4 106.2,108.6 106.8,111.8 106.6,114 107.2,116.5 110.3,116.5 110.9,119.5 120.1,119.5 120.7,122 121.9,123.8 128.1,123.8 128.7,126.3 129.9,128.1 153.4,128.1 153.7,137.4 164.4,137.4 164.8,146.5 210.4,146.5 210.4,173" fill="none" stroke="#223f78" stroke-width="1.35" stroke-linejoin="miter"/>
<polyline points="309,26.5 311.1,30.1 314.1,35.2 317.2,39.3 320.7,42.5 322.6,44.9 324.4,47.4 326.3,49.8 328.1,52.3 329.9,54.7 331.8,56.6 332.4,58 334.5,60.1 336.5,62.8 338.6,64.9 340.6,67.6 342.6,70.3 344.7,72.4 346.2,74 348.6,75.6 351.1,78.1 353.6,80.5 356,83 360,86.5 363.4,90 366.5,93.5 369.5,96.7 373.1,99.3 376.6,102 380,103.8 385,106.5 389.5,109.5 393.4,111.6 397.5,113.6 401.7,116.2 405.8,118.3 410,120.8 415.9,125 418.6,127 424.1,129.8 429.6,132.5 435,134.5 440.5,136.6 445.9,138.6 451.4,140.7 456.8,143.4 461.1,145 467.3,147.2 474.9,149.6 482.6,151.4 490.3,152.6 498,153.8 501,155.7 505.6,156.5 511,157.2" fill="none" stroke="#eb9d2e" stroke-width="1.35" stroke-linejoin="miter"/>
<polyline points="309,26.5 309.5,28.1 312.1,34.2 314.1,38.3 315.8,40 317.1,42.5 318.3,44.9 319.5,46.8 320.7,48.6 322,50.4 323.2,52.3 324.4,54.1 325.2,55.5 326.3,58.7 328.3,61.5 330.4,64.2 331.7,66.9 333.1,69.6 334.5,72.4 335.5,74.5 337.2,78.1 339.6,80.5 342.1,83 344.5,86.3 347,89.5 349.5,92 351.8,94.5 354.4,96.7 357.1,99.3 360.6,102 364.2,104.7 367.7,107.3 369.5,110 372.8,112.9 376.7,115.5 380.5,117.3 385.1,119.3 388.2,120.4 391.3,123.5 394.4,126.6 397.5,128.2 401.7,128.7 405,129.8 409.1,131.1 413.2,133.2 417.3,135.9 421.4,138 426.8,138.6 430.9,140.7 432.3,142.7 437.7,144.1 443.2,145.5 448.7,146.6 454.1,147.5 458.2,148.5 464.2,149.6 470.3,151.9 478,155.7 493.4,155.7 494.9,158.8 499.5,159.5 501,161.1 511,161.4" fill="none" stroke="#309a45" stroke-width="1.35" stroke-linejoin="miter"/>
<polyline points="309,26.5 309.5,29.1 311.1,35.2 311.6,37.8 312.6,40.4 313.6,42.9 314.7,45.5 316.4,46.1 318.3,46.1 319.2,48 320.7,49.2 321.7,50.4 322.6,51.7 323.8,52.9 324.4,54.1 325.6,55.3 326.5,57.5 327.6,58.7 329.7,60.1 330.4,62.1 330.7,64.2 332.4,65.6 333.8,66.2 333.8,68.3 334.5,69.6 335.1,71.7 335.8,73.7 336.4,76.5 338.8,76.9 341.7,76.9 342.1,79.7 342.5,83 344.5,85.5 346.2,87.1 347,89.5 348.2,91.2 349.5,92.8 350.4,94 350.9,99.3 351.8,102.4 354.9,102.4 356.2,103.8 356.2,110.9 357.1,111.8 357.5,115.2 360.2,115.7 360.7,119.9 366.4,119.9 366.9,125.1 371.6,125.6 372.1,130.8 388.2,131.1 388.2,145.2 414.5,145.2 414.5,158.8 458,158.8" fill="none" stroke="#223f78" stroke-width="1.35" stroke-linejoin="miter"/>
<polyline points="309,26.5 309.5,29.1 310.5,34 311.5,40 312.8,42.5 314,44.9 314.6,46.8 314.6,49.8 314.9,52.3 315.8,54.7 316.4,56 317.4,58.7 318.1,61.5 318.8,64.2 319.5,66.9 320.5,69.6 321.5,72.4 322.2,75 322.5,76.5 324.1,78.9 324.9,80.5 327.8,81.8 328.6,83.8 329.4,86.3 330.2,89.5 332.3,90.4 333.9,92.8 335.1,95.3 335.3,99.3 336.7,102.9 338.4,104.7 339.3,107.3 341.1,109.1 342.9,110.4 344.7,112.7 347.3,114.4 349.5,115.3 350.4,117.1 355.2,117.1 356,120.4 358.1,123.5 358.6,128.4 370,128.5 370.5,131.8 371.6,133.9 376.2,134.2 376.8,137.2 411.8,137.3 412.5,140 414.5,140.7 415.2,147.5 433.6,147.5 434.3,150.9 444.6,150.9 445.2,154.3 454.8,154.3 455.5,160.7 511,160.9" fill="none" stroke="#b8274f" stroke-width="1.35" stroke-linejoin="miter"/>
</g></svg></body></html>
